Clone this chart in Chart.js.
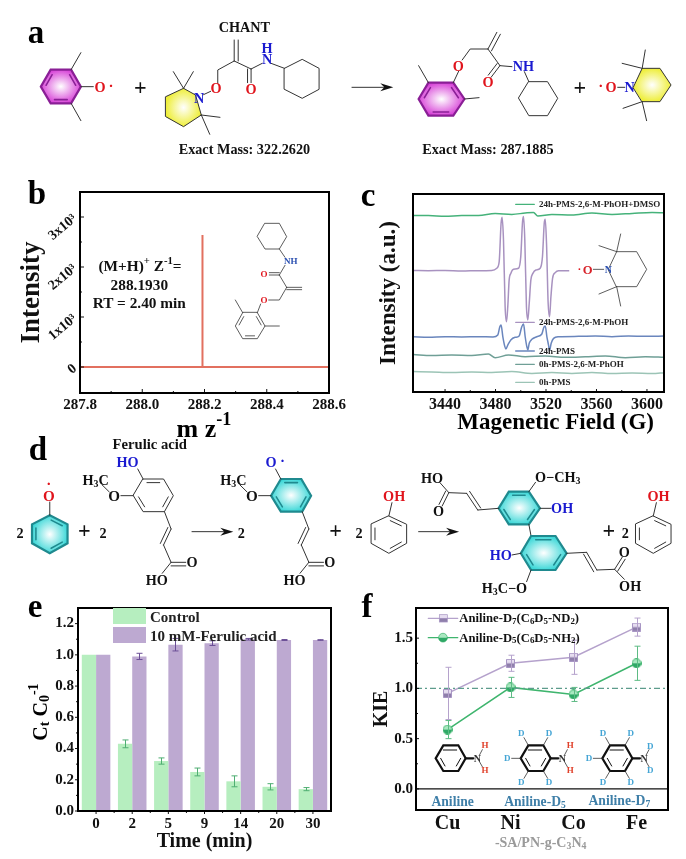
<!DOCTYPE html>
<html>
<head>
<meta charset="utf-8">
<title>Composite figure</title>
<script src="https://cdn.jsdelivr.net/npm/chart.js@4"></script>
<style>
  html, body { margin: 0; padding: 0; background: #fff; }
  #page { position: relative; width: 686px; height: 859px; overflow: hidden; }
  #page canvas, #page svg { position: absolute; left: 0; top: 0; }
  svg text { font-family: "Liberation Serif", serif; font-weight: bold; stroke: none; }
</style>
</head>
<body>
<div id="page">
  <canvas id="chartB" width="686" height="859"></canvas>
  <canvas id="chartC" width="686" height="859"></canvas>
  <canvas id="chartE" width="686" height="859"></canvas>
  <canvas id="chartF" width="686" height="859"></canvas>
  <svg id="overlay" width="686" height="859" viewBox="0 0 686 859"></svg>
</div>
<script>
// panel b, mass spectrum
const massX = [287.8, 288.192, 288.193, 288.194, 288.6];
const massY = [0, 0, 2640, 0, 0];
const massXTicks = [287.8, 288.0, 288.2, 288.4, 288.6];
const massXMinor = [287.9, 288.1, 288.3, 288.5];
const massYTicks = [0, 1000, 2000, 3000];
const massYLabels = ["0", "1x10\u00b3", "2x10\u00b3", "3x10\u00b3"];
const massYMinor = [500, 1500, 2500, 3500];

// panel c, EPR traces (field in G, intensity in arbitrary units)
const eprXTicks = [3440, 3480, 3520, 3560, 3600];
const eprXMinor = [3460, 3500, 3540, 3580];
const dmsoX = [3414.9, 3426.8, 3440, 3453.2, 3466.5, 3479.7, 3492.9, 3503.5, 3510.1, 3513.5, 3524.7, 3540.5, 3556.4, 3572.3, 3588.2, 3604, 3614];
const dmsoY = [89.2, 89.2, 88.7, 89.2, 89.1, 90.2, 89.7, 90.4, 90.7, 88.9, 89.7, 89.4, 90.4, 89.7, 90.2, 90.7, 90.5];
const phohX = [3414.9, 3426.8, 3440, 3453.2, 3466.5, 3477, 3481, 3482.9, 3484.4, 3485.2, 3486.3, 3487.6, 3488.7, 3489.7, 3490.8, 3492.1, 3494.2, 3498.2, 3500, 3501.4, 3502.2, 3503.2, 3504.5, 3505.6, 3506.7, 3508, 3509.6, 3512, 3515.4, 3517.2, 3518.6, 3519.4, 3520.4, 3521.7, 3522.8, 3523.9, 3525.2, 3527.3, 3529.9, 3538.4];
const phohY = [61.4, 61.3, 61.4, 61.1, 61.3, 61.4, 62.5, 65.8, 85.2, 88.2, 76.8, 43.1, 35.5, 43.1, 56.6, 59.9, 62, 62.5, 68.4, 86, 88.6, 76.8, 43.1, 36.4, 44.8, 56.6, 59.9, 61.6, 62.5, 68.4, 85.2, 87.2, 75.1, 44.8, 38, 48.1, 57.4, 60.3, 61.3, 61.3];
const pmsX = [3414.9, 3426.8, 3440, 3453.2, 3466.5, 3478, 3481.8, 3483.4, 3484.4, 3485.8, 3487.4, 3488.2, 3489.7, 3492.1, 3495.5, 3498.7, 3500.8, 3502.2, 3503.5, 3504.8, 3505.6, 3506.7, 3508.8, 3512.7, 3516.7, 3518.3, 3519.4, 3520.7, 3522, 3522.8, 3524.1, 3526, 3529.9, 3545.8, 3559, 3572.3, 3585.5, 3598.7, 3614];
const pmsY = [27.9, 27.6, 27.9, 27.8, 27.9, 27.8, 28.8, 33, 33.8, 27.9, 22.9, 21.7, 23.7, 26.3, 27.6, 28.3, 33, 34.3, 27.9, 22.9, 21.2, 24.6, 26.6, 27.9, 29.3, 32.7, 33.3, 27.9, 23.7, 20.9, 24.6, 27.1, 27.9, 28.1, 28.3, 27.9, 28.3, 28.1, 28.3];
const zeroPhohX = [3414.9, 3429.4, 3445.3, 3461.2, 3474.4, 3479.7, 3490.3, 3503.5, 3519.4, 3535.3, 3551.2, 3567, 3582.9, 3598.7, 3614];
const zeroPhohY = [18.9, 18.4, 18.7, 18.4, 19.2, 17.3, 18.7, 17.8, 18.2, 17.5, 17.8, 18.2, 17.3, 17.8, 17.5];
const zeroPmsX = [3414.9, 3429.4, 3445.3, 3461.2, 3477, 3492.9, 3508.8, 3524.7, 3540.5, 3556.4, 3572.3, 3588.2, 3604, 3614];
const zeroPmsY = [10.3, 10.1, 9.8, 10.1, 9.9, 10.3, 9.4, 9.8, 9.4, 9.9, 9.3, 9.6, 9.3, 9.8];

// panel e, decay bars
const times = ["0", "2", "5", "9", "14", "20", "30"];
const controlValues = [1.0, 0.43, 0.32, 0.25, 0.19, 0.155, 0.14];
const controlErrors = [0, 0.025, 0.02, 0.025, 0.035, 0.02, 0.01];
const ferulicValues = [1.0, 0.99, 1.065, 1.075, 1.1, 1.095, 1.095];
const ferulicErrors = [0, 0.02, 0.04, 0.015, 0.005, 0.003, 0.002];
const decayYTicks = [0, 0.2, 0.4, 0.6, 0.8, 1.0, 1.2];
const decayYMinor = [0.1, 0.3, 0.5, 0.7, 0.9, 1.1];
const decayXMinor = [0.5, 1.5, 2.5, 3.5, 4.5, 5.5];

// panel f, KIE
const metals = ["Cu", "Ni", "Co", "Fe"];
const d7Values = [0.95, 1.25, 1.31, 1.61];
const d7Errors = [0.26, 0.08, 0.17, 0.09];
const d5Values = [0.59, 1.01, 0.94, 1.25];
const d5Errors = [0.09, 0.1, 0.07, 0.17];
const kieYTicks = [0, 0.5, 1.0, 1.5];
const kieYMinor = [0.25, 0.75, 1.25];
const kieRefLine = [1.0];
const kieZeroLine = [0];

const serif = "'Liberation Serif', serif";
Chart.defaults.font.family = serif;
Chart.defaults.font.weight = "bold";
Chart.defaults.color = "#111";
Chart.defaults.animation = false;

// frame, hand made ticks, reference lines and error bars
const panelDecor = {
    id: "panelDecor",
    afterDatasetsDraw(chart, args, opts) {
        const ctx = chart.ctx;
        const area = chart.chartArea;
        const xs = chart.scales.x;
        const ys = chart.scales.y;
        ctx.save();

        (opts.hLines || []).forEach(function (l) {
            ctx.strokeStyle = l.color;
            ctx.lineWidth = l.width;
            ctx.setLineDash(l.dash || []);
            const py = ys.getPixelForValue(l.value);
            ctx.beginPath();
            ctx.moveTo(area.left, py);
            ctx.lineTo(area.right, py);
            ctx.stroke();
        });
        ctx.setLineDash([]);

        chart.data.datasets.forEach(function (ds, i) {
            if (!ds.errors) return;
            const meta = chart.getDatasetMeta(i);
            ctx.strokeStyle = ds.errorColor;
            ctx.lineWidth = 1;
            ds.errors.forEach(function (e, j) {
                if (!e) return;
                const px = Math.round(meta.data[j].x) + 0.5;
                const top = ys.getPixelForValue(ds.data[j] + e);
                const bottom = ys.getPixelForValue(ds.data[j] - e);
                ctx.beginPath();
                ctx.moveTo(px, top);
                ctx.lineTo(px, bottom);
                ctx.moveTo(px - 3, top);
                ctx.lineTo(px + 3, top);
                ctx.moveTo(px - 3, bottom);
                ctx.lineTo(px + 3, bottom);
                ctx.stroke();
            });
        });

        // positive length goes out of the box, negative into it
        ctx.strokeStyle = "#111";
        ctx.lineWidth = 1;
        const tickX = function (v, len) {
            const px = xs.getPixelForValue(v);
            ctx.beginPath();
            ctx.moveTo(px, area.bottom);
            ctx.lineTo(px, area.bottom + len);
            ctx.stroke();
        };
        const tickY = function (v, len) {
            const py = ys.getPixelForValue(v);
            ctx.beginPath();
            ctx.moveTo(area.left, py);
            ctx.lineTo(area.left - len, py);
            ctx.stroke();
        };
        (opts.xMajor || []).forEach(v => tickX(v, opts.major));
        (opts.xMinor || []).forEach(v => tickX(v, opts.minor));
        (opts.yMajor || []).forEach(v => tickY(v, opts.major));
        (opts.yMinor || []).forEach(v => tickY(v, opts.minor));

        ctx.strokeStyle = "#000";
        ctx.lineWidth = 2;
        ctx.strokeRect(area.left, area.top, area.right - area.left, area.bottom - area.top);
        ctx.restore();
    }
};
Chart.register(panelDecor);

// every canvas covers the whole page, so the plot box is given in page pixels
function boxOptions(box, xScale, yScale, decor) {
    xScale.grid = { display: false, drawTicks: false };
    xScale.border = { display: false };
    xScale.afterFit = function (s) { s.height = 859 - box.bottom; };
    yScale.grid = { display: false, drawTicks: false };
    yScale.border = { display: false };
    yScale.afterFit = function (s) { s.width = box.left; };
    return {
        responsive: false,
        maintainAspectRatio: false,
        layout: { padding: { top: box.top, right: 686 - box.right, left: 0, bottom: 0 } },
        scales: { x: xScale, y: yScale },
        plugins: { legend: { display: false }, tooltip: { enabled: false }, panelDecor: decor }
    };
}

function setTicks(values) {
    return function (scale) { scale.ticks = values.map(v => ({ value: v })); };
}

new Chart(document.getElementById("chartB"), {
    type: "line",
    data: {
        datasets: [{
            data: massX.map((x, i) => ({ x: x, y: massY[i] })),
            borderColor: "#e2705f",
            borderWidth: 2,
            pointRadius: 0
        }]
    },
    options: boxOptions({ left: 80, right: 329, top: 192, bottom: 393 }, {
        type: "linear", min: 287.8, max: 288.6,
        afterBuildTicks: setTicks(massXTicks),
        ticks: { padding: 3, font: { size: 15 }, maxRotation: 0, autoSkip: false, callback: v => v.toFixed(1) }
    }, {
        type: "linear", min: -520, max: 3500,
        afterBuildTicks: setTicks(massYTicks),
        ticks: { padding: 5, font: { size: 14 }, minRotation: 40, maxRotation: 40, autoSkip: false,
            callback: v => massYLabels[massYTicks.indexOf(v)] },
        title: { display: true, text: "Intensity", font: { size: 27 }, padding: { top: 16 } }
    }, { major: -4, minor: -2, xMajor: massXTicks, xMinor: massXMinor, yMajor: massYTicks, yMinor: massYMinor })
});

function eprSet(xs, ys, color) {
    return {
        data: xs.map((x, i) => ({ x: x, y: ys[i] })),
        borderColor: color,
        borderWidth: 1.5,
        pointRadius: 0,
        cubicInterpolationMode: "monotone"
    };
}

new Chart(document.getElementById("chartC"), {
    type: "line",
    data: {
        datasets: [
            eprSet(dmsoX, dmsoY, "#45b27a"),
            eprSet(phohX, phohY, "#a892c0"),
            eprSet(pmsX, pmsY, "#6a86bd"),
            eprSet(zeroPhohX, zeroPhohY, "#6f9f96"),
            eprSet(zeroPmsX, zeroPmsY, "#9cc4b6")
        ]
    },
    options: boxOptions({ left: 413, right: 664, top: 194, bottom: 392 }, {
        type: "linear", min: 3414.6, max: 3613.5,
        afterBuildTicks: setTicks(eprXTicks),
        ticks: { padding: 3, font: { size: 16 }, maxRotation: 0, autoSkip: false, callback: v => String(v) }
    }, {
        type: "linear", min: 0, max: 100,
        ticks: { display: false },
        title: { display: true, text: "Intensity (a.u.)", font: { size: 23 }, padding: { top: 375 } }
    }, { major: -3, minor: -2, xMajor: eprXTicks, xMinor: eprXMinor })
});

new Chart(document.getElementById("chartE"), {
    type: "bar",
    data: {
        labels: times,
        datasets: [
            { label: "Control", data: controlValues, errors: controlErrors, errorColor: "#4fae72",
              backgroundColor: "#b6eebf", barPercentage: 1, categoryPercentage: 0.79 },
            { label: "10 mM-Ferulic acid", data: ferulicValues, errors: ferulicErrors, errorColor: "#6b4f96",
              backgroundColor: "#bda9d1", barPercentage: 1, categoryPercentage: 0.79 }
        ]
    },
    options: boxOptions({ left: 78, right: 331, top: 608, bottom: 811 }, {
        type: "category",
        ticks: { padding: 4, font: { size: 15 }, maxRotation: 0, autoSkip: false },
        title: { display: true, text: "Time (min)", font: { size: 20 }, padding: { bottom: 5 } }
    }, {
        type: "linear", min: 0, max: 1.3,
        afterBuildTicks: setTicks(decayYTicks),
        ticks: { padding: 4, font: { size: 15 }, autoSkip: false, callback: v => v.toFixed(1) }
    }, { major: 3, minor: 2, xMajor: [0, 1, 2, 3, 4, 5, 6], xMinor: decayXMinor, yMajor: decayYTicks, yMinor: decayYMinor })
});

// half filled markers, pale on top and dark below
function halfMarker(shape, size, top, bottom, edge) {
    const c = document.createElement("canvas");
    c.width = size;
    c.height = size;
    const g = c.getContext("2d");
    const outline = function () {
        g.beginPath();
        if (shape === "circle") g.arc(size / 2, size / 2, size / 2 - 0.5, 0, Math.PI * 2);
        else g.rect(0.5, 0.5, size - 1, size - 1);
    };
    outline();
    g.fillStyle = top;
    g.fill();
    g.save();
    g.beginPath();
    g.rect(0, size / 2, size, size / 2);
    g.clip();
    outline();
    g.fillStyle = bottom;
    g.fill();
    g.restore();
    outline();
    g.strokeStyle = edge;
    g.stroke();
    return c;
}

new Chart(document.getElementById("chartF"), {
    type: "line",
    data: {
        labels: metals,
        datasets: [
            { label: "Aniline-D7", data: d7Values, errors: d7Errors, errorColor: "#b5a2cc",
              borderColor: "#b5a2cc", borderWidth: 1.5, tension: 0,
              pointStyle: halfMarker("square", 9, "#e6ddf0", "#8f7fab", "#a896c4") },
            { label: "Aniline-D5", data: d5Values, errors: d5Errors, errorColor: "#5dbb84",
              borderColor: "#3fb56e", borderWidth: 1.5, tension: 0,
              pointStyle: halfMarker("circle", 10, "#a9e8c0", "#2fa866", "#3fb56e") }
        ]
    },
    options: boxOptions({ left: 416, right: 668, top: 608, bottom: 810 }, {
        type: "category", offset: true,
        ticks: { padding: 2, font: { size: 20 }, maxRotation: 0, autoSkip: false }
    }, {
        type: "linear", min: -0.21, max: 1.8,
        afterBuildTicks: setTicks(kieYTicks),
        ticks: { padding: 3, font: { size: 15 }, autoSkip: false, callback: v => v.toFixed(1) },
        title: { display: true, text: "KIE", font: { size: 20 }, padding: { top: 370 } }
    }, { major: -3, minor: -2, yMajor: kieYTicks, yMinor: kieYMinor,
        hLines: [
            { value: kieRefLine[0], color: "#5d9c8c", width: 1.2, dash: [6, 3, 2, 3] },
            { value: kieZeroLine[0], color: "#111", width: 1.2 }
        ] })
});

// ---- everything below is text and chemical drawings on the svg layer ----
const RED = "#e0141c", BLUE = "#1a1ad0", BOND = "#333";
const parts = [];

parts.push(`<defs>
  <radialGradient id="gMagenta"><stop offset="0" stop-color="#fff"/><stop offset="1" stop-color="#d846d8"/></radialGradient>
  <radialGradient id="gYellow"><stop offset="0" stop-color="#fff"/><stop offset="1" stop-color="#eeee3a"/></radialGradient>
  <radialGradient id="gCyan"><stop offset="0" stop-color="#fff"/><stop offset="1" stop-color="#3ed8d8"/></radialGradient>
</defs>`);

// drawings are typed in the pixels of a crop, this puts them back on the page
let ox = 0, oy = 0, sx = 1, sy = 1;
function useCrop(x, y, scaleX, scaleY) { ox = x; oy = y; sx = scaleX; sy = scaleY; }
const X = v => +(ox + v * sx).toFixed(2);
const Y = v => +(oy + v * sy).toFixed(2);

function txt(x, y, s, size, fill, anchor) {
    return `<text x="${X(x)}" y="${Y(y)}" font-size="${(size * sx).toFixed(2)}" fill="${fill || "#111"}" text-anchor="${anchor || "middle"}" dominant-baseline="central">${s}</text>`;
}
function sub(s, after) {
    return `<tspan dy=".3em" font-size="70%">${s}</tspan><tspan dy="-.21em">${after || "\u200b"}</tspan>`;
}
function sup(s, after) {
    return `<tspan dy="-.5em" font-size="70%">${s}</tspan><tspan dy=".35em">${after || "\u200b"}</tspan>`;
}
function bond() {
    const a = Array.from(arguments);
    let d = "M" + X(a[0]) + " " + Y(a[1]);
    for (let i = 2; i < a.length; i += 2) d += "L" + X(a[i]) + " " + Y(a[i + 1]);
    return `<path d="${d}"/>`;
}
function colored(x1, y1, x2, y2, color, width) {
    return `<path d="M${X(x1)} ${Y(y1)}L${X(x2)} ${Y(y2)}" stroke="${color}" stroke-width="${width}"/>`;
}
function dbl(x1, y1, x2, y2, gap) {
    const ax = X(x1), ay = Y(y1), bx = X(x2), by = Y(y2);
    const len = Math.hypot(bx - ax, by - ay);
    const g = gap * sx;
    const nx = -(by - ay) / len * g, ny = (bx - ax) / len * g;
    return `<path d="M${ax} ${ay}L${bx} ${by}M${ax + nx} ${ay + ny}L${bx + nx} ${by + ny}"/>`;
}
function polygon(v, attrs) {
    const pts = v.map((n, i) => i % 2 ? Y(n) : X(n)).join(" ");
    return `<polygon points="${pts}" ${attrs || ""}/>`;
}
function ring(v, fill, stroke, width, inner) {
    let cx = 0, cy = 0;
    for (let i = 0; i < 12; i += 2) { cx += v[i] / 6; cy += v[i + 1] / 6; }
    let s = polygon(v, `fill="${fill || "none"}"` + (stroke ? ` stroke="${stroke}" stroke-width="${width}"` : ""));
    if (inner !== false) {
        for (let i = 0; i < 12; i += 4) {
            const j = (i + 2) % 12;
            const k = 0.78;
            const ax = cx + (v[i] - cx) * k, ay = cy + (v[i + 1] - cy) * k;
            const bx = cx + (v[j] - cx) * k, by = cy + (v[j + 1] - cy) * k;
            const mx = (ax + bx) / 2, my = (ay + by) / 2;
            s += `<path d="M${X(mx + (ax - mx) * 0.8)} ${Y(my + (ay - my) * 0.8)}L${X(mx + (bx - mx) * 0.8)} ${Y(my + (by - my) * 0.8)}"` +
                (stroke ? ` stroke="${stroke}" stroke-width="${width * 0.7}"` : "") + `/>`;
        }
    }
    return s;
}
function arrow(x1, y, x2) {
    const py = Y(y), tip = X(x2);
    return bond(x1, y, x2 - 12, y) + `<polygon points="${tip},${py} ${tip - 13},${py - 4} ${tip - 9},${py} ${tip - 13},${py + 4}" fill="#111" stroke="none"/>`;
}
function group(width, inner) {
    return `<g fill="none" stroke="${BOND}" stroke-width="${width}" stroke-linecap="round">${inner}</g>`;
}

// panel letters
[["a", 36, 32], ["b", 37, 193], ["c", 368, 195], ["d", 38, 449], ["e", 35, 606], ["f", 367, 606]].forEach(function (l) {
    parts.push(txt(l[1], l[2], l[0], 33, "#000"));
});

// panel a
useCrop(0, 0, 0.4444, 0.3333);
let a = "";
a += ring([92, 260, 114, 209, 160, 209, 182, 260, 160, 310, 114, 310], "url(#gMagenta)", "#8a1f96", 2.2);
a += bond(160, 209, 182, 158) + bond(160, 310, 182, 362) + bond(182, 260, 210, 260);
a += txt(225, 262, "O", 32, RED) + txt(250, 258, "\u00b7", 34, RED);
a += txt(316, 262, "+", 50, "#111");
a += polygon([373, 290, 413, 265, 440, 285, 453, 345, 413, 380, 373, 350], `fill="url(#gYellow)"`);
a += bond(413, 265, 390, 215) + bond(413, 265, 435, 215) + bond(453, 345, 495, 352) + bond(453, 345, 472, 403);
a += bond(458, 284, 474, 274) + bond(490, 250, 490, 210, 527, 183) + dbl(527, 183, 527, 120, 9);
a += bond(527, 183, 565, 207) + dbl(565, 207, 565, 248, 8) + bond(565, 207, 590, 190) + bond(610, 190, 640, 205);
a += ring([640, 205, 680, 178, 718, 205, 718, 268, 680, 295, 640, 268], null, null, 0, false);
a += txt(448, 293, "N", 32, BLUE) + txt(486, 265, "O", 32, RED) + txt(565, 267, "O", 32, RED);
a += txt(601, 178, "N", 32, BLUE) + txt(601, 143, "H", 32, BLUE);
a += txt(550, 80, "CHANT", 32) + txt(550, 447, "Exact Mass: 322.2620", 32);
a += arrow(792, 262, 885);
a += ring([942, 297, 964, 248, 1020, 248, 1045, 297, 1020, 347, 964, 347], "url(#gMagenta)", "#8a1f96", 2.2);
a += bond(964, 248, 942, 197) + bond(1045, 297, 1078, 293) + bond(1020, 248, 1032, 214);
a += bond(1040, 180, 1058, 147, 1098, 147) + dbl(1098, 147, 1118, 97, 9) + bond(1098, 147, 1125, 197);
a += dbl(1125, 197, 1105, 232, 8) + bond(1125, 197, 1152, 200) + bond(1180, 215, 1190, 245);
a += ring([1190, 245, 1232, 245, 1255, 295, 1232, 347, 1190, 347, 1167, 295], null, null, 0, false);
a += txt(1031, 197, "O", 32, RED) + txt(1098, 247, "O", 32, RED) + txt(1178, 197, "NH", 32, BLUE);
a += txt(1098, 447, "Exact Mass: 287.1885", 32);
a += txt(1305, 262, "+", 50, "#111") + txt(1352, 258, "\u00b7", 34, RED) + txt(1375, 262, "O", 32, RED);
a += bond(1390, 262, 1406, 262) + txt(1417, 262, "N", 32, BLUE);
a += polygon([1425, 262, 1445, 205, 1485, 205, 1510, 255, 1485, 305, 1445, 305], `fill="url(#gYellow)"`);
a += bond(1445, 205, 1400, 190) + bond(1445, 205, 1452, 150) + bond(1445, 305, 1402, 325) + bond(1445, 305, 1455, 362);
parts.push(group(1, a));

// panel b
useCrop(0, 180, 1 / 3, 1 / 3);
let b = "";
b += ring([795, 130, 838, 130, 860, 170, 838, 207, 795, 207, 772, 170], null, null, 0, false);
b += bond(838, 207, 855, 232) + bond(855, 256, 838, 285) + dbl(838, 285, 808, 285, 7);
b += bond(838, 285, 860, 322) + dbl(860, 322, 905, 322, 7) + bond(860, 322, 838, 360, 806, 360) + bond(782, 372, 772, 398);
b += ring([772, 398, 795, 438, 772, 476, 728, 476, 706, 438, 728, 398], null, null, 0, true);
b += bond(728, 398, 706, 360) + bond(795, 438, 838, 438);
b += txt(872, 243, "NH", 27, "#2a4fb0") + txt(792, 283, "O", 27, RED) + txt(792, 360, "O", 27, RED);
b += txt(420, 255, "(M+H)" + sup("+", " Z") + sup("-1", "="), 46);
b += txt(418, 313, "288.1930", 46) + txt(418, 367, "RT = 2.40 min", 46);
b += txt(612, 745, "m z" + sup("-1"), 78, "#000");
parts.push(group(0.8, b));

// panel c
useCrop(345, 180, 1 / 3, 1 / 3);
let c = "";
c += ring([790, 268, 815, 215, 875, 215, 905, 268, 875, 320, 815, 320], null, null, 0, false);
c += bond(815, 215, 762, 197) + bond(815, 215, 827, 162) + bond(815, 320, 762, 342) + bond(815, 320, 827, 378);
c += bond(745, 268, 776, 268);
c += txt(703, 268, "\u00b7", 34, RED) + txt(728, 270, "O", 38, "#d8232a") + txt(790, 268, "N", 30, "#2a4fb0");
[[73, "#45b27a", "24h-PMS-2,6-M-PhOH+DMSO"], [427, "#a892c0", "24h-PMS-2,6-M-PhOH"], [513, "#6a86bd", "24h-PMS"],
 [553, "#6f9f96", "0h-PMS-2,6-M-PhOH"], [607, "#9cc4b6", "0h-PMS"]].forEach(function (r) {
    c += colored(512, r[0], 568, r[0], r[1], 1.3);
    c += txt(582, r[0], r[2], 27, "#222", "start");
});
c += txt(632, 725, "Magenetic Field (G)", 69, "#000");
parts.push(group(0.8, c));

// panel d
useCrop(0, 430, 0.4444, 0.3333);
let d = "";
d += txt(337, 42, "Ferulic acid", 33);
d += txt(45, 310, "2", 32);
d += ring([112, 256, 152, 283, 152, 340, 112, 370, 72, 340, 72, 283], "url(#gCyan)", "#1f8a8f", 2.2);
d += bond(112, 256, 112, 216) + txt(110, 198, "O", 34, RED) + txt(110, 163, "\u00b7", 34, RED);
d += txt(190, 303, "+", 50) + txt(232, 308, "2", 32);

function ferulicPart(dx, fill) {
    let s = "";
    const v = [322 + dx, 147, 368 + dx, 147, 390 + dx, 197, 370 + dx, 245, 322 + dx, 245, 300 + dx, 197];
    s += fill ? ring(v, fill, "#1f8a8f", 2.2) : ring(v, null, null, 0, true);
    s += bond(322 + dx, 147, 310 + dx, 117) + bond(300 + dx, 197, 272 + dx, 197) + bond(246 + dx, 186, 230 + dx, 165);
    s += txt(257 + dx, 197, "O", 34) + txt(215 + dx, 150, "H" + sub("3", "C"), 32);
    s += bond(370 + dx, 245, 385 + dx, 297) + dbl(385 + dx, 297, 368 + dx, 345, 8) + bond(368 + dx, 345, 385 + dx, 397);
    s += dbl(385 + dx, 397, 418 + dx, 397, 8) + bond(385 + dx, 397, 365 + dx, 430);
    s += txt(432 + dx, 397, "O", 32) + txt(353 + dx, 450, "HO", 32);
    return s;
}
d += ferulicPart(0, null) + txt(287, 97, "HO", 32, BLUE);
d += arrow(432, 305, 525) + txt(543, 308, "2", 32);
d += ferulicPart(310, "url(#gCyan)") + txt(610, 97, "O", 32, BLUE) + txt(636, 92, "\u00b7", 34, BLUE);
d += txt(755, 303, "+", 50) + txt(808, 308, "2", 32);

function phenol(cx) {
    let s = ring([cx, 258, cx + 40, 283, cx + 40, 340, cx, 370, cx - 40, 340, cx - 40, 283], null, null, 0, true);
    s += bond(cx, 258, cx + 7, 218) + txt(cx + 12, 197, "OH", 32, RED);
    return s;
}
d += phenol(875) + arrow(942, 305, 1033);

d += ring([1145, 185, 1190, 185, 1215, 235, 1190, 283, 1145, 283, 1122, 235], "url(#gCyan)", "#1f8a8f", 2.2);
d += bond(1190, 185, 1205, 157) + bond(1215, 235, 1240, 235) + bond(1190, 283, 1195, 318);
d += txt(1255, 140, "O\u2212CH" + sub("3"), 32) + txt(1265, 235, "OH", 32, BLUE);
d += bond(1122, 235, 1075, 240) + dbl(1075, 240, 1050, 190, 8) + bond(1050, 190, 1010, 188);
d += dbl(1010, 188, 995, 228, 8) + bond(1010, 188, 990, 158);
d += txt(972, 143, "HO", 32) + txt(987, 243, "O", 32);
d += ring([1195, 318, 1250, 318, 1275, 370, 1250, 420, 1195, 420, 1172, 370], "url(#gCyan)", "#1f8a8f", 2.2);
d += bond(1172, 370, 1152, 375) + bond(1195, 420, 1185, 455);
d += txt(1127, 375, "HO", 32, BLUE) + txt(1135, 475, "H" + sub("3", "C\u2212O"), 32);
d += bond(1275, 370, 1320, 367) + dbl(1320, 367, 1343, 420, 8) + bond(1343, 420, 1383, 418);
d += dbl(1383, 418, 1400, 382, 8) + bond(1383, 418, 1405, 448);
d += txt(1405, 367, "O", 32) + txt(1418, 467, "OH", 32);
d += txt(1370, 303, "+", 50) + txt(1407, 308, "2", 32) + phenol(1470);
parts.push(group(1, d));

// panel e overlay
useCrop(0, 0, 1, 1);
let e = "";
e += `<rect x="113" y="608" width="33" height="16" fill="#b6eebf"/>`;
e += `<rect x="113" y="627" width="33" height="16" fill="#bda9d1"/>`;
e += txt(150, 617, "Control", 15, "#222", "start") + txt(150, 636, "10 mM-Ferulic acid", 15, "#222", "start");
e += `<g transform="translate(40,712) rotate(-90)">` + txt(0, 0, "C" + sub("t", " C") + sub("0") + sup("-1"), 20, "#000") + `</g>`;
parts.push(e);

// panel f overlay
useCrop(345, 590, 1 / 3, 1 / 3);
let f = "";
const legendY = [85, 143];
f += colored(250, legendY[0], 338, legendY[0], "#b5a2cc", 1.4);
f += `<rect x="${X(283)}" y="${Y(legendY[0] - 11)}" width="8" height="3.7" fill="#e6ddf0" stroke="#a896c4" stroke-width="0.7"/>`;
f += `<rect x="${X(283)}" y="${Y(legendY[0])}" width="8" height="3.7" fill="#8f7fab" stroke="#a896c4" stroke-width="0.7"/>`;
f += txt(343, legendY[0], "Aniline-D" + sub("7", "(C") + sub("6", "D") + sub("5", "-ND") + sub("2", ")"), 38, "#111", "start");
f += colored(250, legendY[1], 338, legendY[1], "#3fb56e", 1.4);
f += `<circle cx="${X(294)}" cy="${Y(legendY[1])}" r="4.4" fill="#a9e8c0" stroke="#3fb56e" stroke-width="0.7"/>`;
f += `<path d="M${X(294) - 4.4} ${Y(legendY[1])}a4.4 4.4 0 0 0 8.8 0Z" fill="#2fa866" stroke="none"/>`;
f += txt(343, legendY[1], "Aniline-D" + sub("5", "(C") + sub("6", "D") + sub("5", "-NH") + sub("2", ")"), 38, "#111", "start");

function aniline(dx, ortho) {
    let s = `<g stroke="#111" stroke-width="2.2">`;
    s += polygon([272, 505, 295, 466, 340, 466, 362, 505, 340, 543, 295, 543].map((v, i) => i % 2 ? v : v + dx));
    s += `<g stroke-width="1">` + bond(295 + dx, 480, 335 + dx, 480) + bond(347 + dx, 505, 334 + dx, 528) + bond(287 + dx, 505, 300 + dx, 528) + `</g>`;
    s += bond(362 + dx, 505, 385 + dx, 505) + `</g>`;
    s += bond(404 + dx, 494, 412 + dx, 479) + bond(404 + dx, 516, 412 + dx, 530);
    s += txt(397 + dx, 505, "N", 30, "#333");
    if (ortho) {
        s += bond(295 + dx, 466, 282 + dx, 443) + bond(340 + dx, 466, 353 + dx, 443);
        s += bond(295 + dx, 543, 282 + dx, 565) + bond(340 + dx, 543, 353 + dx, 565) + bond(272 + dx, 505, 245 + dx, 505);
        s += txt(274 + dx, 430, "D", 27, "#45a5d5") + txt(357 + dx, 430, "D", 27, "#45a5d5");
        s += txt(274 + dx, 575, "D", 27, "#45a5d5") + txt(357 + dx, 575, "D", 27, "#45a5d5");
        s += txt(232 + dx, 503, "D", 27, "#45a5d5");
    }
    return s;
}
f += aniline(0, false) + txt(420, 466, "H", 27, "#e0402a") + txt(420, 540, "H", 27, "#e0402a");
f += aniline(255, true) + txt(676, 466, "H", 27, "#e0402a") + txt(676, 540, "H", 27, "#e0402a");
f += aniline(500, true) + txt(916, 468, "D", 27, "#45a5d5") + txt(916, 540, "D", 27, "#45a5d5");

f += txt(323, 633, "Aniline", 41, "#3f7fa8");
f += txt(570, 633, "Aniline-D" + sub("5"), 41, "#3f7fa8");
f += txt(823, 630, "Aniline-D" + sub("7"), 41, "#3f7fa8");
f += txt(587, 757, "-SA/PN-g-C" + sub("3", "N") + sub("4"), 42, "#9a9a9a");
parts.push(group(0.8, f));

document.getElementById("overlay").innerHTML = parts.join("");
</script>
</body>
</html>
